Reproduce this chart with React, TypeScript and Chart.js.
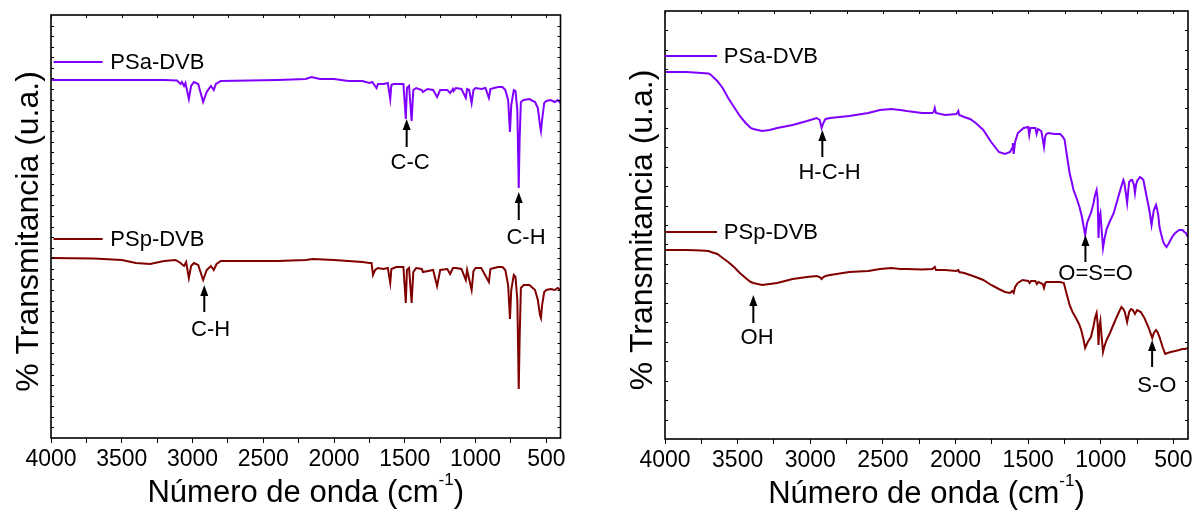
import React, { useEffect, useRef } from "react";
import { Chart, registerables } from "chart.js";

Chart.register(...registerables);

const FONT = '"Liberation Sans", Arial, Helvetica, sans-serif';
const PURPLE = "#8000ff";
const DARKRED = "#800000";

// ---------- Tick values (wavenumber, cm-1) ----------
const X_TICKS = [500, 750, 1000, 1250, 1500, 1750, 2000, 2250, 2500, 2750, 3000, 3250, 3500, 3750, 4000];

// ---------- Left panel: PS-DVB spectra [wavenumber, transmittance u.a.] ----------
const leftPSa: [number, number][] = [
  [4000, 358], [3700, 358], [3400, 358], [3200, 358], [3110, 357.5], [3085, 354], [3075, 356], [3060, 352],
  [3050, 355], [3026, 339], [3010, 352], [2990, 356], [2960, 354], [2925, 336], [2900, 346], [2870, 352],
  [2850, 348], [2835, 354], [2800, 357], [2600, 357.5], [2400, 358], [2200, 359], [2160, 361], [2100, 359],
  [2000, 359], [1950, 358], [1900, 357], [1800, 357], [1750, 355], [1730, 356], [1700, 350], [1690, 354],
  [1650, 354], [1620, 355], [1603, 339], [1595, 353], [1580, 354], [1510, 354], [1493, 319], [1485, 350],
  [1470, 352], [1452, 317], [1440, 348], [1420, 350], [1380, 348], [1372, 346], [1340, 349], [1300, 348],
  [1272, 341], [1250, 348], [1200, 348], [1180, 345], [1160, 349], [1155, 347], [1140, 350], [1100, 349],
  [1069, 340], [1060, 349], [1045, 348], [1028, 335], [1015, 348], [1000, 350], [960, 349], [930, 350],
  [906, 340], [895, 349], [870, 350], [840, 351], [810, 351], [790, 348], [770, 338], [757, 306],
  [748, 333], [730, 348], [718, 347], [705, 328], [695, 250], [689, 298], [680, 336], [660, 338],
  [620, 339], [580, 336], [560, 330], [545, 313], [538, 307], [530, 318], [515, 335], [500, 337],
  [470, 338], [440, 336], [420, 338], [400, 335],
];

const leftPSp: [number, number][] = [
  [4000, 180], [3700, 179.5], [3500, 178], [3400, 175], [3300, 174], [3200, 177], [3120, 178], [3085, 175],
  [3060, 172], [3045, 176], [3026, 160], [3010, 172], [2990, 175], [2960, 173], [2925, 158], [2900, 168],
  [2870, 172], [2850, 168], [2830, 174], [2800, 177], [2600, 177], [2400, 177], [2200, 178], [2150, 179],
  [2000, 178], [1900, 177], [1800, 176], [1750, 175], [1735, 175], [1725, 163], [1710, 168], [1690, 170],
  [1650, 169], [1620, 170], [1603, 155], [1595, 169], [1560, 171], [1510, 171], [1493, 135], [1485, 168],
  [1470, 170], [1452, 135], [1440, 166], [1420, 170], [1380, 169], [1372, 166], [1300, 168], [1272, 152],
  [1250, 168], [1200, 169], [1180, 164], [1160, 170], [1140, 170], [1100, 169], [1069, 158], [1060, 168],
  [1028, 148], [1015, 167], [1000, 170], [960, 170], [906, 156], [895, 169], [870, 170], [840, 171],
  [810, 171], [790, 168], [770, 153], [757, 119], [748, 148], [730, 163], [718, 161], [705, 138],
  [695, 49], [689, 98], [680, 150], [660, 153], [620, 153], [580, 148], [560, 138], [545, 123],
  [538, 120], [530, 133], [515, 146], [500, 148], [470, 149], [440, 148], [420, 150], [400, 148],
];

// ---------- Right panel: sulfonated spectra [wavenumber, transmittance u.a.] ----------
const rightPSa: [number, number][] = [
  [4000, 367], [3850, 367], [3750, 366], [3700, 365.5], [3683, 364], [3640, 358], [3603, 351], [3565, 341],
  [3525, 332], [3485, 323], [3445, 316], [3410, 311], [3392, 310], [3332, 308], [3280, 309], [3228, 311],
  [3121, 314], [3022, 318], [2956, 321], [2935, 319], [2922, 311], [2910, 316], [2895, 320], [2863, 321],
  [2732, 323], [2601, 326], [2520, 329], [2443, 330], [2380, 329], [2336, 328], [2231, 326], [2160, 326],
  [2150, 327], [2143, 331], [2135, 326], [2072, 324], [1995, 325], [1985, 327], [1981, 328], [1975, 324],
  [1941, 322], [1900, 320], [1861, 316], [1809, 309], [1755, 297], [1702, 287], [1660, 285], [1625, 287],
  [1610, 291], [1606, 296], [1600, 285], [1590, 297], [1571, 306], [1531, 311], [1500, 312], [1493, 304],
  [1485, 311], [1451, 311], [1442, 305], [1432, 310], [1410, 308], [1400, 300], [1391, 292], [1382, 303],
  [1375, 305], [1361, 306], [1320, 305], [1280, 305], [1260, 302], [1249, 299], [1235, 285], [1215, 266],
  [1200, 257], [1188, 249], [1165, 240], [1147, 232], [1130, 222], [1118, 212], [1108, 204], [1095, 216],
  [1080, 222], [1068, 226], [1050, 236], [1040, 244], [1029, 249], [1022, 240], [1016, 201], [1010, 222],
  [1003, 226], [995, 210], [985, 191], [975, 200], [960, 210], [940, 217], [911, 226], [880, 242],
  [860, 252], [845, 259], [838, 256], [830, 248], [819, 236], [810, 250], [805, 257], [792, 259],
  [784, 259], [772, 254], [765, 246], [758, 254], [750, 258], [731, 262], [720, 261], [707, 259],
  [695, 250], [680, 239], [665, 228], [651, 214], [643, 222], [635, 229], [620, 234], [610, 228],
  [605, 224], [596, 212], [585, 205], [570, 197], [560, 194], [548, 192], [535, 195], [520, 199],
  [505, 203], [488, 206], [470, 208], [460, 209], [438, 209], [425, 207], [415, 206], [400, 202],
];

const rightPSp: [number, number][] = [
  [4000, 189], [3850, 189], [3750, 188.5], [3700, 188], [3683, 187], [3640, 185], [3603, 181], [3565, 177],
  [3525, 172], [3485, 166], [3445, 161], [3410, 157], [3392, 156], [3332, 154], [3280, 155], [3228, 156],
  [3121, 160], [3022, 162], [2956, 163], [2935, 162], [2922, 160], [2910, 162], [2895, 163], [2863, 164],
  [2732, 167], [2601, 168], [2520, 170], [2443, 171], [2380, 170], [2336, 170], [2231, 169.5], [2160, 170],
  [2143, 172], [2135, 169], [2072, 169], [1995, 168], [1981, 169], [1975, 167], [1941, 166], [1900, 164],
  [1861, 162], [1809, 159], [1755, 154], [1702, 150], [1660, 147], [1625, 146], [1610, 148], [1600, 146],
  [1590, 152], [1571, 156], [1539, 159], [1500, 158], [1490, 156], [1480, 158], [1451, 158], [1440, 155],
  [1430, 157], [1400, 155], [1391, 151], [1382, 156], [1375, 157], [1320, 157], [1280, 157], [1255, 156],
  [1235, 145], [1215, 134], [1195, 127], [1175, 122], [1150, 115], [1135, 109], [1120, 100], [1108, 91],
  [1090, 97], [1068, 102], [1050, 113], [1040, 121], [1029, 126], [1022, 115], [1016, 94], [1010, 112],
  [1003, 118], [995, 103], [985, 87], [975, 93], [960, 99], [937, 106], [900, 119], [875, 127],
  [858, 132], [845, 130], [835, 127], [819, 117], [805, 127], [792, 130], [780, 129], [765, 125],
  [750, 129], [725, 127], [700, 121], [670, 111], [646, 101], [635, 106], [620, 109], [610, 107],
  [596, 102], [575, 92], [557, 85], [540, 86], [520, 87], [488, 88], [460, 89], [440, 90],
  [420, 90], [400, 91],
];

// ---------- Labels ----------
const SERIES_NAMES = ["PSa-DVB", "PSp-DVB"];
const X_TITLE = "Número de onda (cm";
const X_TITLE_SUP = "-1";
const Y_TITLE = "% Transmitancia (u.a.)";

type Note = { label: string; x: number; tip: number; tail: number; textX: number; textY: number };
type Leg = { label: string; color: string; x0: number; x1: number; y: number; textX: number };

const leftNotes: Note[] = [
  { label: "C-C", x: 1487, tip: 319, tail: 291, textX: 1463, textY: 275 },
  { label: "C-H", x: 695, tip: 246, tail: 218, textX: 644, textY: 200 },
  { label: "C-H", x: 2917, tip: 153, tail: 126, textX: 2872, textY: 108 },
];
const rightNotes: Note[] = [
  { label: "H-C-H", x: 2917, tip: 309, tail: 282, textX: 2867, textY: 266 },
  { label: "O=S=O", x: 1106, tip: 204, tail: 177, textX: 1036, textY: 165 },
  { label: "OH", x: 3392, tip: 144, tail: 116, textX: 3366, textY: 101 },
  { label: "S-O", x: 647, tip: 99, tail: 72, textX: 614, textY: 53 },
];
const leftLegend: Leg[] = [
  { label: SERIES_NAMES[0], color: PURPLE, x0: 3982, x1: 3635, y: 376, textX: 3581 },
  { label: SERIES_NAMES[1], color: DARKRED, x0: 3982, x1: 3635, y: 199, textX: 3581 },
];
const rightLegend: Leg[] = [
  { label: SERIES_NAMES[0], color: PURPLE, x0: 4000, x1: 3642, y: 383, textX: 3595 },
  { label: SERIES_NAMES[1], color: DARKRED, x0: 4000, x1: 3642, y: 207, textX: 3595 },
];

type PanelCfg = {
  series: [number, number][][];
  notes: Note[];
  legend: Leg[];
  yMax: number;
  pad: { left: number; right: number; top: number };
  xHeight: number;
  yTickCount: number;
  canvasWidth: number;
  canvasLeft: number;
};

function decorPlugin(cfg: PanelCfg) {
  return {
    id: "decor",
    afterDraw(chart: any) {
      const { ctx, chartArea: a, scales } = chart;
      const xs = scales.x;
      const ys = scales.y;
      ctx.save();
      // frame
      ctx.strokeStyle = "#000";
      ctx.lineWidth = 1.6;
      ctx.strokeRect(a.left, a.top, a.right - a.left, a.bottom - a.top);
      // inward ticks on top
      ctx.lineWidth = 1;
      ctx.beginPath();
      for (const v of X_TICKS) {
        const px = Math.round(xs.getPixelForValue(v)) + 0.5;
        ctx.moveTo(px, a.top);
        ctx.lineTo(px, a.top + 3);
      }
      // inward ticks on left and right
      const h = a.bottom - a.top;
      for (let i = 1; i < cfg.yTickCount; i++) {
        const py = Math.round(a.top + (i * h) / cfg.yTickCount) + 0.5;
        ctx.moveTo(a.left, py);
        ctx.lineTo(a.left + 3, py);
        ctx.moveTo(a.right - 3, py);
        ctx.lineTo(a.right, py);
      }
      ctx.stroke();

      // legend entries
      ctx.font = `22px ${FONT}`;
      ctx.textBaseline = "middle";
      ctx.textAlign = "left";
      for (const l of cfg.legend) {
        const py = ys.getPixelForValue(l.y);
        ctx.strokeStyle = l.color;
        ctx.lineWidth = 2;
        ctx.beginPath();
        ctx.moveTo(xs.getPixelForValue(l.x0), py);
        ctx.lineTo(xs.getPixelForValue(l.x1), py);
        ctx.stroke();
        ctx.fillStyle = "#000";
        ctx.fillText(l.label, xs.getPixelForValue(l.textX), py + 1);
      }

      // annotations (arrows + labels)
      for (const n of cfg.notes) {
        const px = xs.getPixelForValue(n.x);
        const tipY = ys.getPixelForValue(n.tip);
        const tailY = ys.getPixelForValue(n.tail);
        ctx.strokeStyle = "#000";
        ctx.fillStyle = "#000";
        ctx.lineWidth = 2;
        ctx.beginPath();
        ctx.moveTo(px, tailY);
        ctx.lineTo(px, tipY + 8);
        ctx.stroke();
        ctx.beginPath();
        ctx.moveTo(px, tipY);
        ctx.lineTo(px - 4, tipY + 11);
        ctx.lineTo(px + 4, tipY + 11);
        ctx.closePath();
        ctx.fill();
        ctx.textAlign = "center";
        ctx.textBaseline = "middle";
        ctx.font = `22px ${FONT}`;
        ctx.fillText(n.label, xs.getPixelForValue(n.textX), ys.getPixelForValue(n.textY));
      }

      // x title with superscript
      const cx = (a.left + a.right) / 2;
      const base = a.bottom + 63.5;
      ctx.textBaseline = "alphabetic";
      ctx.textAlign = "left";
      ctx.font = `31px ${FONT}`;
      const w1 = ctx.measureText(X_TITLE).width;
      const w3 = ctx.measureText(")").width;
      ctx.font = `17px ${FONT}`;
      const w2 = ctx.measureText(X_TITLE_SUP).width;
      let sx = cx - (w1 + w2 + w3) / 2;
      ctx.font = `31px ${FONT}`;
      ctx.fillText(X_TITLE, sx, base);
      sx += w1;
      ctx.font = `17px ${FONT}`;
      ctx.fillText(X_TITLE_SUP, sx, base - 17);
      sx += w2;
      ctx.font = `31px ${FONT}`;
      ctx.fillText(")", sx, base);

      // y title
      ctx.save();
      ctx.translate(a.left - 13, (a.top + a.bottom) / 2 + 5);
      ctx.rotate(-Math.PI / 2);
      ctx.font = `32px ${FONT}`;
      ctx.textAlign = "center";
      ctx.textBaseline = "alphabetic";
      ctx.fillText(Y_TITLE, 0, 0);
      ctx.restore();

      ctx.restore();
    },
  };
}

function Panel({ cfg }: { cfg: PanelCfg }) {
  const ref = useRef<HTMLCanvasElement>(null);
  useEffect(() => {
    const colors = [PURPLE, DARKRED];
    const chart = new Chart(ref.current as HTMLCanvasElement, {
      type: "line",
      data: {
        datasets: cfg.series.map((s, i) => ({
          label: SERIES_NAMES[i],
          data: s.map(([x, y]) => ({ x, y })),
          borderColor: colors[i],
          backgroundColor: colors[i],
          borderWidth: 2,
          pointRadius: 0,
          tension: 0,
          fill: false,
        })),
      },
      options: {
        responsive: false,
        animation: false,
        layout: { padding: { left: cfg.pad.left, right: cfg.pad.right, top: cfg.pad.top, bottom: 0 } },
        plugins: { legend: { display: false }, tooltip: { enabled: false } },
        scales: {
          x: {
            type: "linear",
            reverse: true,
            min: 400,
            max: 4000,
            afterBuildTicks: (s: any) => {
              s.ticks = X_TICKS.map((v) => ({ value: v }));
            },
            afterFit: (s: any) => {
              s.height = cfg.xHeight;
            },
            border: { display: false },
            grid: { drawOnChartArea: false, drawTicks: true, tickLength: 5, color: "#000", lineWidth: 1 },
            ticks: {
              autoSkip: false,
              maxRotation: 0,
              minRotation: 0,
              padding: 3,
              color: "#000",
              font: { family: FONT, size: 23 },
              callback: (v: any) => (Number(v) % 500 === 0 ? String(v) : ""),
            },
          },
          y: {
            type: "linear",
            display: false,
            min: 0,
            max: cfg.yMax,
          },
        },
      },
      plugins: [decorPlugin(cfg)],
    } as any);
    return () => chart.destroy();
  }, []);
  return (
    <canvas
      ref={ref}
      width={cfg.canvasWidth}
      height={511}
      style={{ position: "absolute", left: cfg.canvasLeft, top: 0, width: cfg.canvasWidth, height: 511 }}
    />
  );
}

const leftCfg: PanelCfg = {
  series: [leftPSa, leftPSp],
  notes: leftNotes,
  legend: leftLegend,
  yMax: 423,
  pad: { left: 51, right: 39.5, top: 15 },
  xHeight: 73,
  yTickCount: 40,
  canvasWidth: 600,
  canvasLeft: 0,
};

const rightCfg: PanelCfg = {
  series: [rightPSa, rightPSp],
  notes: rightNotes,
  legend: rightLegend,
  yMax: 428,
  pad: { left: 65, right: 10, top: 11 },
  xHeight: 72,
  yTickCount: 22,
  canvasWidth: 598,
  canvasLeft: 600,
};

export default function App() {
  return (
    <div style={{ position: "absolute", left: 0, top: 0, width: 1198, height: 511, background: "#fff", overflow: "hidden" }}>
      <Panel cfg={leftCfg} />
      <Panel cfg={rightCfg} />
    </div>
  );
}
